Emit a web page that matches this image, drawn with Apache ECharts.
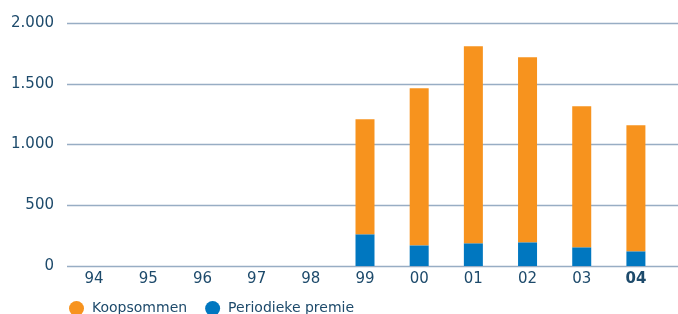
<!DOCTYPE html>
<html><head><meta charset="utf-8">
<script src="https://cdn.jsdelivr.net/npm/echarts@6/dist/echarts.min.js"></script>
<style>html,body{margin:0;padding:0;background:#fff}#c{width:678px;height:314px}</style>
</head><body><div id="c"></div>
<script>
var categories = ['94','95','96','97','98','99','00','01','02','03','04'];
var periodiekePremie = [null,null,null,null,null,261,170,187,195,154,121];
var koopsommen = [null,null,null,null,null,946,1292,1621,1523,1160,1037];
var yTicks = [0,500,1000,1500,2000];

var txt = '#1d4a6b';
var font = 'DejaVu Sans';
var chart = echarts.init(document.getElementById('c'));
chart.setOption({
  animation:false,
  textStyle:{fontFamily:font},
  grid:[
    {left:67,right:15,top:23,bottom:48},
    {left:67,right:0,top:23,bottom:48}
  ],
  legend:{
    left:64, top:296, icon:'circle', itemWidth:15, itemHeight:15, itemGap:18,
    textStyle:{color:txt,fontSize:14,fontFamily:font,padding:[0,0,0,3]},
    data:['Koopsommen','Periodieke premie']
  },
  xAxis:[
    {type:'category',gridIndex:0,data:categories,
     axisLine:{show:false},axisTick:{show:false},
     axisLabel:{color:txt,fontSize:15,margin:6,interval:0,fontFamily:font,
       formatter:function(v){return v==='04'?'{b|'+v+'}':v;},
       rich:{b:{fontWeight:'bold',fontSize:15,color:txt,fontFamily:font}}}},
    {type:'value',gridIndex:1,show:false,min:0,max:1}
  ],
  yAxis:[
    {type:'value',gridIndex:0,min:yTicks[0],max:yTicks[yTicks.length-1],interval:500,
     axisLine:{show:false},axisTick:{show:false},splitLine:{show:false},
     axisLabel:{color:txt,fontSize:15,margin:13,fontFamily:font,
       formatter:function(v){return v>=1000?(Math.floor(v/1000)+'.'+String(v%1000).padStart(3,'0')):String(v);}}},
    {type:'value',gridIndex:1,min:yTicks[0],max:yTicks[yTicks.length-1],interval:500,
     axisLine:{show:false},axisTick:{show:false},axisLabel:{show:false},
     splitLine:{show:true,lineStyle:{color:'#98adc4',width:1.3}}}
  ],
  series:[
    {name:'Periodieke premie',type:'bar',stack:'t',xAxisIndex:0,yAxisIndex:0,data:periodiekePremie,
     barWidth:19,itemStyle:{color:'#0077c0'},z:3},
    {name:'Koopsommen',type:'bar',stack:'t',xAxisIndex:0,yAxisIndex:0,data:koopsommen,
     barWidth:19,itemStyle:{color:'#f7931e'},z:3}
  ]
});
</script></body></html>
